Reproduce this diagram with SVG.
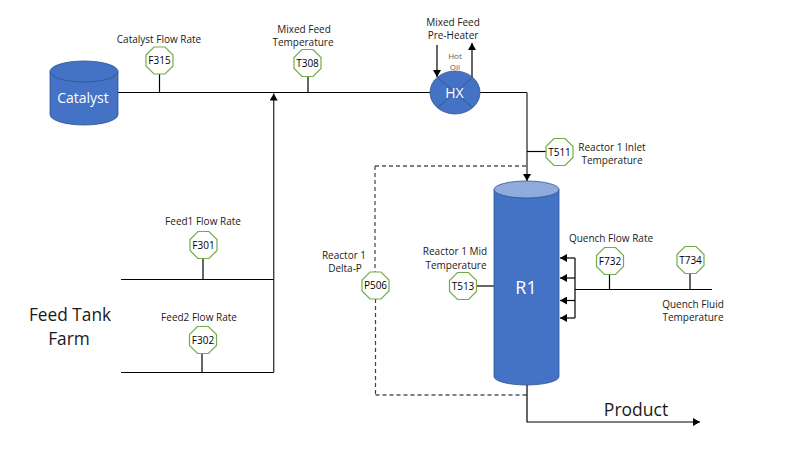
<svg xmlns="http://www.w3.org/2000/svg" width="790" height="463" viewBox="0 0 790 463">
<style>
text{font-family:"Open Sans","Noto Sans","Liberation Sans",sans-serif;text-anchor:middle;fill:#1a1a1a}
.s{font-size:10px}
.tag{font-size:10px;fill:#000}
.oct{fill:#fff;stroke:#70ad47;stroke-width:1.2}
.ln{fill:none;stroke:#000;stroke-width:1.2}
.gr{fill:none;stroke:#404040;stroke-width:1.4}
.da{fill:none;stroke:#000;stroke-width:1;stroke-dasharray:4 3}
.da2{fill:none;stroke:#404040;stroke-width:1.2;stroke-dasharray:4 3}
.eq{fill:#4472c4;stroke:#2f528f;stroke-width:.8}
.w{fill:#fff}
</style>
<defs>
<marker id="a" markerUnits="userSpaceOnUse" markerWidth="8" markerHeight="8" refX="7" refY="4" orient="auto"><path d="M0 0L7 4L0 8Z" fill="#000"/></marker>
<polygon id="o" points="-5.5,-13.500 5.5,-13.500 13.500,-5.5 13.500,5.5 5.5,13.500 -5.5,13.500 -13.500,5.5 -13.500,-5.5"/>
</defs>
<rect width="790" height="463" fill="#fff"/>
<g id="connectors">
<path class="ln" d="M118 92.500H430"/>
<path class="ln" d="M159.500 74V92.500M308 76V92.500M203 258V279.500M202 353V372.500M609.500 274V289.500M690 273V289.500"/>
<path class="gr" d="M273.700 372.500V93.500" marker-end="url(#a)"/>
<path class="ln" d="M121 279.500H273.700M121 372.500H273.700"/>
<path class="ln" d="M480 92.500H527"/>
<path class="gr" d="M527 92.500V181" marker-end="url(#a)"/>
<path class="ln" d="M527 151.500H546"/>
<path class="ln" d="M437 45V77" marker-end="url(#a)"/>
<path class="ln" d="M472 78V43" marker-end="url(#a)"/>
<path class="da" d="M375 166H527"/>
<path class="da2" d="M375 166V272M375.500 299V395"/>
<path class="da" d="M375.500 395H527"/>
<path class="ln" d="M527 385V422H700" marker-end="url(#a)"/>
<path class="ln" d="M477 286H494"/>
<path class="ln" d="M575 289.500H712M575 258V318"/>
<path class="ln" d="M575 258H560" marker-end="url(#a)"/>
<path class="ln" d="M575 278H560" marker-end="url(#a)"/>
<path class="ln" d="M575 300.500H560" marker-end="url(#a)"/>
<path class="ln" d="M575 318H560" marker-end="url(#a)"/>
</g>
<g id="catalyst">
<path class="eq" d="M50 71.500V114.500A34 10.500 0 0 0 118 114.500V71.500Z"/>
<ellipse class="eq" cx="84" cy="71.500" rx="34" ry="10.500"/>
<text class="w" x="83" y="103" font-size="14">Catalyst</text>
</g>
<g id="hx">
<ellipse class="eq" cx="455" cy="92.500" rx="25" ry="21.500"/>
<path d="M437.500 77.500L472.500 107.500M472.500 77.500L437.500 107.500" stroke="#2f528f" stroke-width=".8"/>
<text class="w" x="454.500" y="98" font-size="14">HX</text>
</g>
<g id="r1">
<path class="eq" d="M494 189.500V376.500A32.500 8.500 0 0 0 559 376.500V189.500Z"/>
<ellipse cx="526.500" cy="189.500" rx="32.500" ry="8.500" fill="#8faadc" stroke="#2f528f" stroke-width=".8"/>
<text class="w" x="526" y="294" font-size="18">R1</text>
</g>
<g id="F315"><use href="#o" class="oct" x="159.500" y="60.500"/><text class="tag" x="159.500" y="64">F315</text></g>
<g id="T308"><use href="#o" class="oct" x="307.500" y="63"/><text class="tag" x="307.500" y="66.500">T308</text></g>
<g id="T511"><use href="#o" class="oct" x="559.500" y="152"/><text class="tag" x="559.500" y="155.500">T511</text></g>
<g id="F301"><use href="#o" class="oct" x="203.500" y="245"/><text class="tag" x="203.500" y="248.500">F301</text></g>
<g id="F302"><use href="#o" class="oct" x="203" y="340"/><text class="tag" x="203" y="343.500">F302</text></g>
<g id="P506"><use href="#o" class="oct" x="375.500" y="285.500"/><text class="tag" x="375.500" y="289">P506</text></g>
<g id="T513"><use href="#o" class="oct" x="463" y="286"/><text class="tag" x="463" y="289.500">T513</text></g>
<g id="F732"><use href="#o" class="oct" x="610" y="261"/><text class="tag" x="610" y="264.500">F732</text></g>
<g id="T734"><use href="#o" class="oct" x="690.500" y="260"/><text class="tag" x="690.500" y="263.500">T734</text></g>
<g id="labels">
<text class="s" x="159" y="43">Catalyst Flow Rate</text>
<text class="s" x="304" y="33">Mixed Feed</text>
<text class="s" x="303" y="46">Temperature</text>
<text class="s" x="453" y="26">Mixed Feed</text>
<text class="s" x="453" y="39">Pre-Heater</text>
<text x="455" y="59" font-size="8" style="fill:#595959">Hot</text>
<text x="455" y="70" font-size="8" style="fill:#595959">Oil</text>
<text class="s" x="612" y="151">Reactor 1 Inlet</text>
<text class="s" x="612" y="164">Temperature</text>
<text class="s" x="203" y="225">Feed1 Flow Rate</text>
<text class="s" x="199" y="321">Feed2 Flow Rate</text>
<text class="s" x="344" y="259">Reactor 1</text>
<text class="s" x="345" y="272">Delta-P</text>
<text class="s" x="455" y="255">Reactor 1 Mid</text>
<text class="s" x="456" y="269">Temperature</text>
<text class="s" x="611" y="242">Quench Flow Rate</text>
<text class="s" x="693" y="308">Quench Fluid</text>
<text class="s" x="693" y="321">Temperature</text>
<text x="70" y="321" font-size="17.300">Feed Tank</text>
<text x="69" y="345" font-size="17.300">Farm</text>
<text x="636" y="416" font-size="17.500">Product</text>
</g>
</svg>
